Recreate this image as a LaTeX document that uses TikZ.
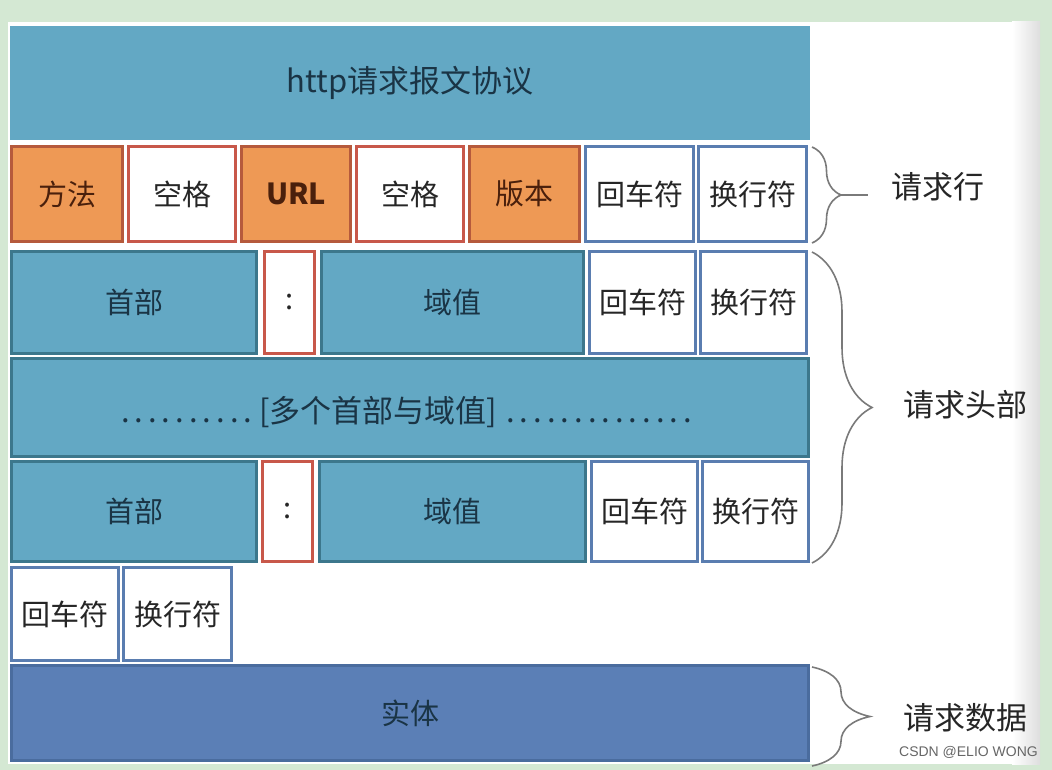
\documentclass[tikz,border=0pt]{standalone}
\usepackage{fontspec}
\setmainfont{Noto Sans CJK SC}
\newfontfamily\wmfont{Liberation Sans}
\usetikzlibrary{decorations.pathreplacing}
\definecolor{bggreen}{HTML}{D4E8D3}
\definecolor{teal}{HTML}{63A8C4}
\definecolor{tealdark}{HTML}{3C778C}
\definecolor{orangef}{HTML}{EE9955}
\definecolor{oranged}{HTML}{B65A3C}
\definecolor{redb}{HTML}{C8584A}
\definecolor{blueb}{HTML}{5A7DB0}
\definecolor{entity}{HTML}{5B7FB6}
\definecolor{entityd}{HTML}{4A6C9E}
\definecolor{txt}{HTML}{262626}
\definecolor{navy}{HTML}{1A3445}
\definecolor{brn}{HTML}{4A200C}
\definecolor{bracec}{HTML}{7A7A7A}
\newcommand{\mybox}[7]{\node[#2, minimum width=#5pt, minimum height=#6pt] (#1) at (#3,#4) {#7};}
\tikzset{
  cellbase/.style={rectangle, inner sep=0pt, line width=3pt, font=\fontsize{29}{31}\selectfont},
  orangecell/.style={cellbase, fill=orangef, draw=oranged, text=brn},
  whitered/.style={cellbase, fill=white, draw=redb, text=txt},
  whiteblue/.style={cellbase, fill=white, draw=blueb, text=txt},
  tealcell/.style={cellbase, fill=teal, draw=tealdark, text=navy},
  entitycell/.style={cellbase, fill=entity, draw=entityd, text=navy},
  bracestyle/.style={draw=bracec, line width=1.6pt, decorate},
  lab/.style={font=\fontsize{31}{33}\selectfont, text=black!85}
}
\begin{document}
\begin{tikzpicture}[x=1pt,y=-1pt]
\useasboundingbox (0,0) rectangle (1052,770);
\fill[bggreen] (0,0) rectangle (1052,770);
\fill[white] (8,22) rectangle (1040,764);
\shade[left color=white, right color=black!13] (1012,22) rectangle (1040,764);
% title
\node[rectangle, fill=teal, inner sep=0pt, minimum width=800pt, minimum height=114pt, text=navy, font=\fontsize{31}{33}\selectfont] (title) at (410,83) {http请求报文协议};
% request line
\mybox{m}{orangecell}{67}{194}{111}{95}{方法}
\mybox{sp1}{whitered}{182}{194}{107}{95}{空格}
\mybox{url}{orangecell}{296}{194}{109}{95}{\bfseries URL}
\mybox{sp2}{whitered}{410}{194}{107}{95}{空格}
\mybox{ver}{orangecell}{524.5}{194}{110}{95}{版本}
\mybox{cr1}{whiteblue}{639.5}{194}{108}{95}{回车符}
\mybox{lf1}{whiteblue}{752.5}{194}{108}{95}{换行符}
% header row 1
\mybox{h1}{tealcell}{134}{302.5}{245}{102}{首部}
\mybox{c1}{whitered}{289.5}{302.5}{50}{102}{:}
\mybox{v1}{tealcell}{452.5}{302.5}{262}{102}{域值}
\mybox{cr2}{whiteblue}{642.5}{302.5}{106}{102}{回车符}
\mybox{lf2}{whiteblue}{753.5}{302.5}{106}{102}{换行符}
% multi
\node[tealcell, minimum width=797pt, minimum height=98pt] (multi) at (410,407.5) {};
\node[font=\fontsize{31}{33}\selectfont, text=navy, anchor=base west, inner sep=0pt] (multitext) at (114,422) {\makebox[145pt]{\dotfill}[多个首部与域值]\makebox[204pt]{\dotfill}};
% header row 2
\mybox{h2}{tealcell}{134}{511.5}{245}{100}{首部}
\mybox{c2}{whitered}{287.5}{511.5}{50}{100}{:}
\mybox{v2}{tealcell}{452.5}{511.5}{266}{100}{域值}
\mybox{cr3}{whiteblue}{644.5}{511.5}{106}{100}{回车符}
\mybox{lf3}{whiteblue}{755.5}{511.5}{106}{100}{换行符}
% empty line
\mybox{cr4}{whiteblue}{65}{614}{107}{93}{回车符}
\mybox{lf4}{whiteblue}{177.5}{614}{108}{93}{换行符}
% body
\mybox{body}{entitycell}{410}{713}{797}{95}{实体}
% braces
\coordinate (b1t) at (812,147);
\coordinate (b1b) at (812,243);
\coordinate (b1tip) at (841,195);
\coordinate (b1end) at (868,195);
\draw[bracestyle, decoration={brace, amplitude=29pt}] (b1t) -- (b1b);
\draw[draw=bracec, line width=1.6pt] (b1tip) -- (b1end);
\coordinate (b2t) at (812,252);
\coordinate (b2b) at (812,563);
\draw[bracestyle, decoration={brace, amplitude=60pt}] (b2t) -- (b2b);
\coordinate (b3t) at (812,667);
\coordinate (b3b) at (812,766);
\draw[bracestyle, decoration={brace, amplitude=58pt}] (b3t) -- (b3b);
\node[lab] (l1) at (938,187) {请求行};
\node[lab] (l2) at (965,405) {请求头部};
\node[lab] (l3) at (965,718) {请求数据};
\node[anchor=east, text=black!60, font=\wmfont\fontsize{14}{15}\selectfont, inner sep=0pt] (wm) at (1038,752) {CSDN @ELIO WONG};
\end{tikzpicture}
\end{document}
